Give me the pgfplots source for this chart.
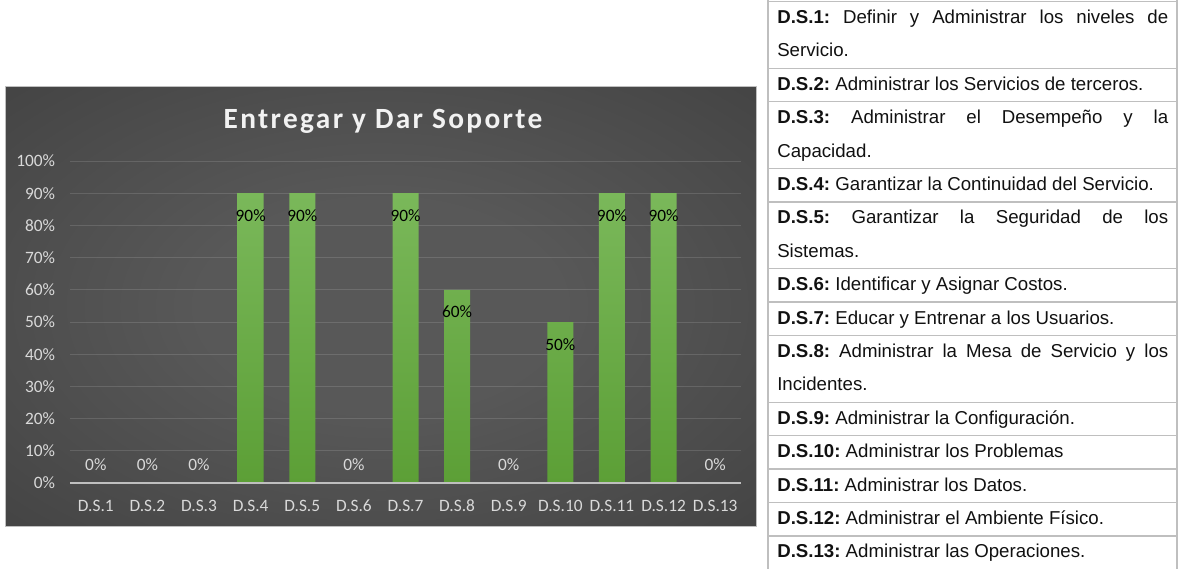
\documentclass[border=0pt]{standalone}
\usepackage{fontspec}
\setmainfont{Liberation Sans}
\newfontfamily\chartfont{Carlito}
\usepackage{pgfplots}
\usepackage{pgfplotstable}
\pgfplotsset{compat=1.18}

\definecolor{BgIn}{HTML}{585858}
\definecolor{BgMid}{HTML}{383838}
\definecolor{BgOut}{HTML}{202020}
\definecolor{BarTop}{HTML}{7AB85A}
\definecolor{BarBot}{HTML}{5C9F36}
\definecolor{TickGray}{HTML}{D9D9D9}
\definecolor{TitleCol}{HTML}{F2F2F2}
\definecolor{BaseLine}{HTML}{BFBFBF}
\definecolor{TableLine}{HTML}{BFBFBF}
\definecolor{TableText}{HTML}{111111}

\pgfdeclareradialshading{chartbg}{\pgfpointorigin}{color(0bp)=(BgIn); color(12bp)=(BgIn); color(50bp)=(BgMid); color(71bp)=(BgOut)}

% percentages per process (D.S.1 .. D.S.13)
\pgfplotstableread{
x y
1 0
2 0
3 0
4 90
5 90
6 0
7 90
8 60
9 0
10 50
11 90
12 90
13 0
}\dsdata

\newcommand{\tfont}{\fontsize{14}{16}\selectfont\frenchspacing}
\newcommand{\jline}[1]{\makebox[293.25pt][s]{#1}}
\newcommand{\cfont}{\chartfont\fontsize{13}{15}\selectfont}

\begin{document}
\begin{tikzpicture}
\begin{scope}[x=0.75pt,y=-0.75pt]
\useasboundingbox (0,0) rectangle (1179,569);
\shade[shading=chartbg] (5,86) rectangle (756,526);
\draw[draw=BaseLine, line width=0.5pt] (5,86) rectangle (756,526);
\node[anchor=base, font=\chartfont\bfseries\fontsize{22}{26}\selectfont, text=TitleCol]
  at (383,128) {\addfontfeatures{LetterSpace=8}Entregar y Dar Soporte};

% table on the right
\draw[TableLine, line width=1.1pt] (768,0) -- (768,569) (1177,0) -- (1177,569);
\foreach \k in {0,2,3,5,6,8,9,10,12,13,14,15,16}
  \draw[TableLine, line width=1.1pt] (768,1.5+33.4*\k) -- (1177,1.5+33.4*\k);
\begin{scope}[every node/.style={anchor=base west, inner sep=0pt, font=\tfont, text=TableText}]
\node at (777,23.5+33.4*0) {\jline{\textbf{D.S.1:} Definir y Administrar los niveles de}};
\node at (777,23.5+33.4*1) {Servicio.};
\node at (777,23.5+33.4*2) {\textbf{D.S.2:} Administrar los Servicios de terceros.};
\node at (777,23.5+33.4*3) {\jline{\textbf{D.S.3:} Administrar el Desempeño y la}};
\node at (777,23.5+33.4*4) {Capacidad.};
\node at (777,23.5+33.4*5) {\textbf{D.S.4:} Garantizar la Continuidad del Servicio.};
\node at (777,23.5+33.4*6) {\jline{\textbf{D.S.5:} Garantizar la Seguridad de los}};
\node at (777,23.5+33.4*7) {Sistemas.};
\node at (777,23.5+33.4*8) {\textbf{D.S.6:} Identificar y Asignar Costos.};
\node at (777,23.5+33.4*9) {\textbf{D.S.7:} Educar y Entrenar a los Usuarios.};
\node at (777,23.5+33.4*10) {\jline{\textbf{D.S.8:} Administrar la Mesa de Servicio y los}};
\node at (777,23.5+33.4*11) {Incidentes.};
\node at (777,23.5+33.4*12) {\textbf{D.S.9:} Administrar la Configuración.};
\node at (777,23.5+33.4*13) {\textbf{D.S.10:} Administrar los Problemas};
\node at (777,23.5+33.4*14) {\textbf{D.S.11:} Administrar los Datos.};
\node at (777,23.5+33.4*15) {\textbf{D.S.12:} Administrar el Ambiente Físico.};
\node at (777,23.5+33.4*16) {\textbf{D.S.13:} Administrar las Operaciones.};
\end{scope}
\end{scope}

\begin{axis}[at={(52.5pt,-362.25pt)},anchor=south west,scale only axis,
width=503.25pt,height=241.5pt,xmin=0.5,xmax=13.5,ymin=0,ymax=100,clip=false,
axis line style={draw=none},tick style={draw=none},
/pgf/number format/assume math mode=true,
ytick={0,10,...,100},yticklabel={\pgfmathprintnumber{\tick}\%},
xtick={1,...,13},
xticklabels={D.S.1,D.S.2,D.S.3,D.S.4,D.S.5,D.S.6,D.S.7,D.S.8,D.S.9,D.S.10,D.S.11,D.S.12,D.S.13},
ymajorgrids,grid style={draw=white,draw opacity=0.13,line width=0.75pt},
tick label style={font=\cfont,text=TickGray,inner sep=0pt},
yticklabel style={xshift=-11pt},xticklabel style={yshift=-12.5pt}]
\addplot[ybar,bar width=19.5pt,draw=none,top color=BarTop,bottom color=BarBot,
  y filter/.expression={y>0 ? y : nan}] table[x=x,y=y] {\dsdata};
\addplot[draw=none,mark=none,y filter/.expression={y>0 ? y : nan},
  nodes near coords={\pgfmathprintnumber{\pgfplotspointmeta}\%},
  every node near coord/.append style={anchor=north,inner sep=0pt,yshift=-12pt,
  text=black,font=\cfont}] table[x=x,y=y] {\dsdata};
\addplot[draw=none,mark=none,y filter/.expression={y==0 ? 0 : nan},
  nodes near coords={0\%},
  every node near coord/.append style={anchor=south,inner sep=0pt,yshift=9pt,
  text=TickGray,font=\cfont}] table[x=x,y=y] {\dsdata};
\draw[BaseLine,line width=1.1pt] (axis cs:0.5,0) -- (axis cs:13.5,0);
\end{axis}
\end{tikzpicture}
\end{document}
